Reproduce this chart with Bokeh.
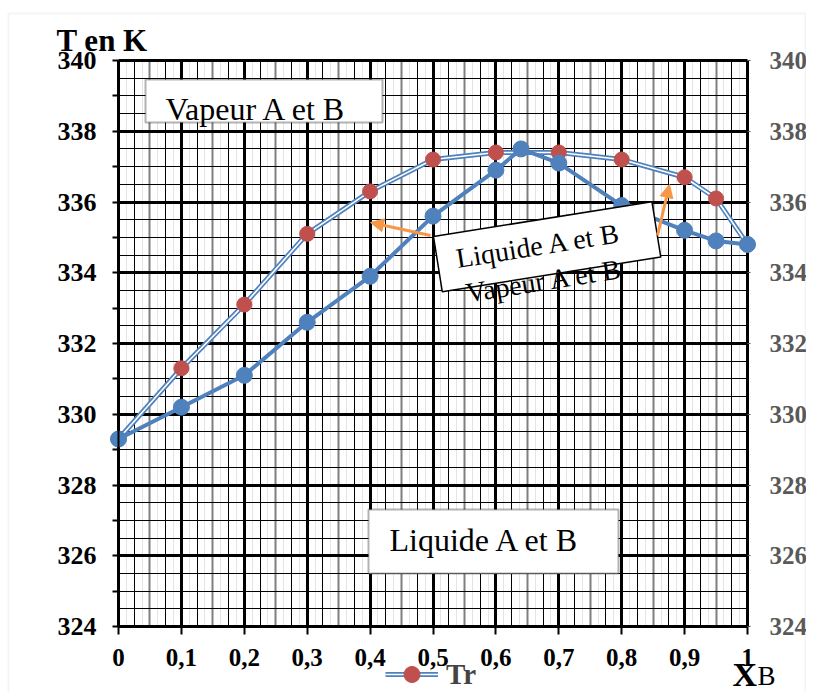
import numpy as np
from bokeh.plotting import figure
from bokeh.models import (Label, Arrow, NormalHead, BoxAnnotation, Legend, LegendItem,
                          FixedTicker, Grid, LinearAxis, Range1d)
from bokeh.embed import file_html
from bokeh.resources import INLINE

# ---- data ----
tr_x = [0.0, 0.1, 0.2, 0.3, 0.4, 0.5, 0.6, 0.7, 0.8, 0.9, 0.95, 1.0]
tr_t = [329.3, 331.3, 333.1, 335.1, 336.3, 337.2, 337.4, 337.4, 337.2, 336.7, 336.1, 334.8]

liq_x = [0.0, 0.1, 0.2, 0.3, 0.4, 0.5, 0.6, 0.64, 0.7, 0.8, 0.9, 0.95, 1.0]
liq_t = [329.3, 330.2, 331.1, 332.6, 333.9, 335.6, 336.9, 337.5, 337.1, 335.9, 335.2, 334.9, 334.8]

x_ticks = [0.0, 0.1, 0.2, 0.3, 0.4, 0.5, 0.6, 0.7, 0.8, 0.9, 1.0]
x_tick_labels = ["0", "0,1", "0,2", "0,3", "0,4", "0,5", "0,6", "0,7", "0,8", "0,9", "1"]
y_ticks = [324, 326, 328, 330, 332, 334, 336, 338, 340]
y_minor_ticks = [325, 327, 329, 331, 333, 335, 337, 339]

BLUE = "#4f81bd"
RED = "#c0504d"
ORANGE = "#f79646"
SERIF = "Liberation Serif"

# ---- layout geometry (canvas pixels) ----
W, H = 806, 692
PX_X0, PX_X1 = 118, 747        # canvas px of x=0 and x=1
PX_Y340, PX_Y324 = 60, 626     # canvas px of T=340 and T=324
XMIN, XMAX = 0.0, 1.0
YMIN, YMAX = 324.0, 340.0
sx = (PX_X1 - PX_X0) / (XMAX - XMIN)
sy = (PX_Y324 - PX_Y340) / (YMAX - YMIN)
x_range = Range1d(XMIN - PX_X0 / sx, XMIN + (W - PX_X0) / sx)
y_range = Range1d(YMIN - (H - PX_Y324) / sy, YMAX + PX_Y340 / sy)


def dx(px):
    return XMIN + (px - PX_X0) / sx


def dy(py):
    return YMAX - (py - PX_Y340) / sy


MID = 0.3375  # baseline lies this many em below the "middle" anchor


p = figure(width=W, height=H, x_range=x_range, y_range=y_range,
           min_border=0, min_border_left=0, min_border_right=0,
           min_border_top=0, min_border_bottom=0,
           output_backend="svg", toolbar_location=None,
           background_fill_color="white", border_fill_color="white")
p.outline_line_color = None

# outer chart-area border
p.add_layout(BoxAnnotation(left=dx(8), right=dx(805), top=dy(13), bottom=y_range.start - 1,
                           fill_alpha=0, line_color="#d9d9d9", line_width=2, level="underlay"))


# ---- grids (limited to the data box) ----
def add_grid(dim, ticks, color, width):
    kw = dict(dimension=dim, ticker=FixedTicker(ticks=list(ticks)),
              grid_line_color=color, grid_line_width=width)
    bounds = (XMIN, XMAX) if dim == 0 else (YMIN, YMAX)
    cross = (YMIN, YMAX) if dim == 0 else (XMIN, XMAX)
    try:
        g = Grid(bounds=bounds, cross_bounds=cross, **kw)
        p.add_layout(g)
    except Exception:
        t = list(ticks)
        if dim == 0:
            p.segment(x0=t, x1=t, y0=[YMIN] * len(t), y1=[YMAX] * len(t),
                      line_color=color, line_width=width, level="underlay")
        else:
            p.segment(x0=[XMIN] * len(t), x1=[XMAX] * len(t), y0=t, y1=t,
                      line_color=color, line_width=width, level="underlay")


p.xgrid.visible = False
p.ygrid.visible = False
add_grid(0, np.arange(0.0125, 1.0, 0.025), "#e4e4e4", 1)
add_grid(0, np.arange(0.05, 1.0, 0.1), "#7f7f7f", 2)
add_grid(0, np.arange(0.025, 1.0, 0.05), "black", 1)
add_grid(1, np.arange(324.5, 340, 0.5), "black", 1)
add_grid(0, x_ticks, "black", 3)
add_grid(1, y_ticks, "black", 3)

# ---- axes (fixed on the data box) ----
xa = p.xaxis[0]
xa.fixed_location = YMIN
xa.bounds = (XMIN, XMAX)
xa.ticker = FixedTicker(ticks=x_ticks)
xa.major_label_overrides = {t: l for t, l in zip(x_ticks, x_tick_labels)}
xa.major_label_text_font = SERIF
xa.major_label_text_font_style = "bold"
xa.major_label_text_font_size = "25px"
xa.major_label_text_color = "black"
xa.major_label_standoff = 14
xa.major_tick_out = 8
xa.major_tick_in = 0
xa.major_tick_line_width = 2
xa.minor_tick_line_color = None
xa.axis_line_width = 2

ya = p.yaxis[0]
ya.fixed_location = XMIN
ya.bounds = (YMIN, YMAX)
ya.ticker = FixedTicker(ticks=y_ticks, minor_ticks=y_minor_ticks)
ya.major_label_text_font = SERIF
ya.major_label_text_font_style = "bold"
ya.major_label_text_font_size = "26px"
ya.major_label_text_color = "black"
ya.major_label_standoff = 16
ya.major_tick_out = 6
ya.major_tick_in = 0
ya.minor_tick_out = 6
ya.minor_tick_in = 0
ya.major_tick_line_width = 2
ya.minor_tick_line_width = 2
ya.axis_line_width = 2

ra = LinearAxis(ticker=FixedTicker(ticks=y_ticks), fixed_location=XMAX, bounds=(YMIN, YMAX))
ra.major_label_text_font = SERIF
ra.major_label_text_font_style = "bold"
ra.major_label_text_font_size = "25px"
ra.major_label_text_color = "#595959"
ra.major_label_standoff = 19
ra.major_tick_out = 3
ra.major_tick_in = 0
ra.major_tick_line_color = "#595959"
ra.minor_tick_line_color = None
ra.axis_line_color = None
p.add_layout(ra, "right")

# ---- region boxes ----
p.add_layout(BoxAnnotation(left=dx(145), right=dx(382), top=dy(79), bottom=dy(122),
                           fill_color="white", fill_alpha=1, line_color="black", line_width=2))
p.add_layout(BoxAnnotation(left=dx(368), right=dx(618), top=dy(509), bottom=dy(573),
                           fill_color="white", fill_alpha=1, line_color="black", line_width=2))

# ---- series ----
r_outer = p.line(tr_x, tr_t, line_color=BLUE, line_width=5)
r_inner = p.line(tr_x, tr_t, line_color="white", line_width=1.6)
r_red = p.scatter(tr_x, tr_t, size=15, fill_color=RED, line_color=RED)

p.line(liq_x, liq_t, line_color=BLUE, line_width=4)
p.scatter(liq_x, liq_t, size=16, fill_color=BLUE, line_color=BLUE)


# ---- labels (anchor = left end of the baseline, converted to a "middle" anchor) ----
def text_label(px, py, text, size, bold=False, angle=0.0):
    s, c = np.sin(angle), np.cos(angle)
    off = MID * size
    ax, ay = px - s * off, py - c * off
    return Label(x=dx(ax), y=dy(ay), text=text, text_font=SERIF,
                 text_font_style="bold" if bold else "normal",
                 text_font_size=f"{size}px", text_color="black",
                 text_align="left", text_baseline="middle", angle=angle)


p.add_layout(text_label(165, 119, "Vapeur A et B", 32))
p.add_layout(text_label(389, 550, "Liquide A et B", 32))

ANG = 0.158
# tilted box: anchored at its top-left corner; padding = (left, right, top, bottom)
p.add_layout(Label(x=dx(433), y=dy(236), text="Liquide A et B", text_font=SERIF,
                   text_font_size="28px", text_color="black",
                   text_align="left", text_baseline="top",
                   angle=ANG, padding=(19, 35, 10, 15),
                   background_fill_color="white", border_line_color="black",
                   border_line_width=1.5))
p.add_layout(text_label(467, 302, "Vapeur A et B", 28, angle=ANG))

# ---- arrows ----
p.add_layout(Arrow(x_start=dx(430), y_start=dy(235), x_end=dx(370), y_end=dy(222),
                   line_color=ORANGE, line_width=3,
                   end=NormalHead(size=13, fill_color=ORANGE, line_color=ORANGE)))
p.add_layout(Arrow(x_start=dx(657), y_start=dy(235), x_end=dx(669), y_end=dy(184),
                   line_color=ORANGE, line_width=3,
                   end=NormalHead(size=13, fill_color=ORANGE, line_color=ORANGE)))

# ---- axis titles ----
p.add_layout(text_label(56, 50, "T en K", 31, bold=True))
p.add_layout(text_label(732, 685, "X", 34, bold=True))
p.add_layout(text_label(757, 685, "B", 27))

# ---- legend ----
legend = Legend(items=[LegendItem(label="Tr", renderers=[r_outer, r_inner, r_red])],
                location=(385, -2), glyph_width=53, glyph_height=40, label_standoff=8,
                label_height=30,
                label_text_font=SERIF, label_text_font_style="bold", label_text_font_size="29px",
                padding=0, margin=0, border_line_color=None, background_fill_alpha=0)
p.add_layout(legend)

open("out.html", "w").write(file_html(p, INLINE))
